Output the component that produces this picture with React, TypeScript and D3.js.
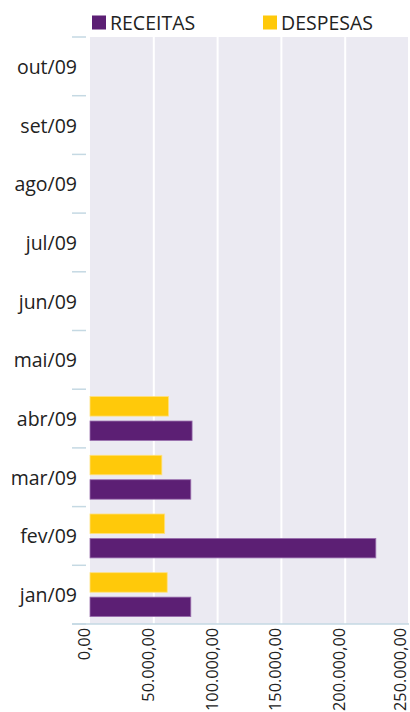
import React from "react";
import * as d3 from "d3";

const categories = ["jan/09", "fev/09", "mar/09", "abr/09", "mai/09", "jun/09", "jul/09", "ago/09", "set/09", "out/09"];
const receitas = [79000, 224000, 79000, 80000, null, null, null, null, null, null];
const despesas = [60500, 58500, 56300, 61500, null, null, null, null, null, null];
const xTicks = [0, 50000, 100000, 150000, 200000, 250000];
const seriesNames = ["RECEITAS", "DESPESAS"];
const colors = ["#5c1f74", "#ffc90a"];

const W = 410, H = 712;
const left = 90, right = 409, top = 37, bottom = 624;
const font = "'Open Sans', 'Noto Sans', sans-serif";

export default function App() {
  const x = d3.scaleLinear().domain([0, 250000]).range([left, right]);
  const y = d3.scaleBand().domain([...categories].reverse()).range([top, bottom]);
  const bw = y.bandwidth();
  const barH = bw * 0.332;
  const pad = bw * 0.126;
  const fmt = (v: number) => {
    const s = d3.format(",.2f")(v);
    return s.replace(/,/g, "#").replace(/\./g, ",").replace(/#/g, ".");
  };
  return (
    <svg width={W} height={H} style={{ position: "absolute", left: 0, top: 0 }}>
      <rect x={left} y={top} width={right - left} height={bottom - top} fill="#ebeaf2" />
      {xTicks.slice(1).map((t) => (
        <line key={t} x1={x(t)} x2={x(t)} y1={top} y2={bottom} stroke="#ffffff" strokeWidth={2} />
      ))}
      {categories.map((c, i) => {
        const y0 = y(c)!;
        const r = receitas[i];
        const d = despesas[i];
        return (
          <g key={c}>
            {d != null && (
              <rect x={x(0)} y={y0 + pad} width={x(d) - x(0)} height={barH} fill={colors[1]} stroke="#ffe07a" strokeWidth={0.8} />
            )}
            {r != null && (
              <rect x={x(0)} y={y0 + bw - pad - barH} width={x(r) - x(0)} height={barH} fill={colors[0]} stroke="#9a6fae" strokeWidth={0.8} />
            )}
          </g>
        );
      })}
      {[...categories, "__end"].map((c, i) => {
        const yy = i < categories.length ? y(c)! : bottom;
        return <line key={"t" + c} x1={72} x2={86} y1={yy} y2={yy} stroke="#c5d9e3" strokeWidth={1.5} />;
      })}
      <line x1={72} x2={right} y1={bottom} y2={bottom} stroke="#c5d9e3" strokeWidth={1.5} />
      {categories.map((c) => (
        <text key={"l" + c} x={77} y={y(c)! + bw / 2} textAnchor="end" dominantBaseline="central" fontFamily={font} fontSize={19.5} fill="#222">
          {c}
        </text>
      ))}
      {xTicks.map((t) => (
        <text key={"x" + t} transform={`translate(${Math.min(x(t) - 6, W - 10)},${628}) rotate(-90)`} textAnchor="end" dominantBaseline="central" fontFamily={font} fontSize={16.3} fill="#222">
          {fmt(t)}
        </text>
      ))}
      {seriesNames.map((s, i) => {
        const lx = i === 0 ? 92 : 263;
        return (
          <g key={s}>
            <rect x={lx} y={15.5} width={14} height={14} fill={colors[i]} />
            <text x={lx + 18} y={29.5} fontFamily={font} fontSize={19.5} fill="#222">
              {s}
            </text>
          </g>
        );
      })}
    </svg>
  );
}
